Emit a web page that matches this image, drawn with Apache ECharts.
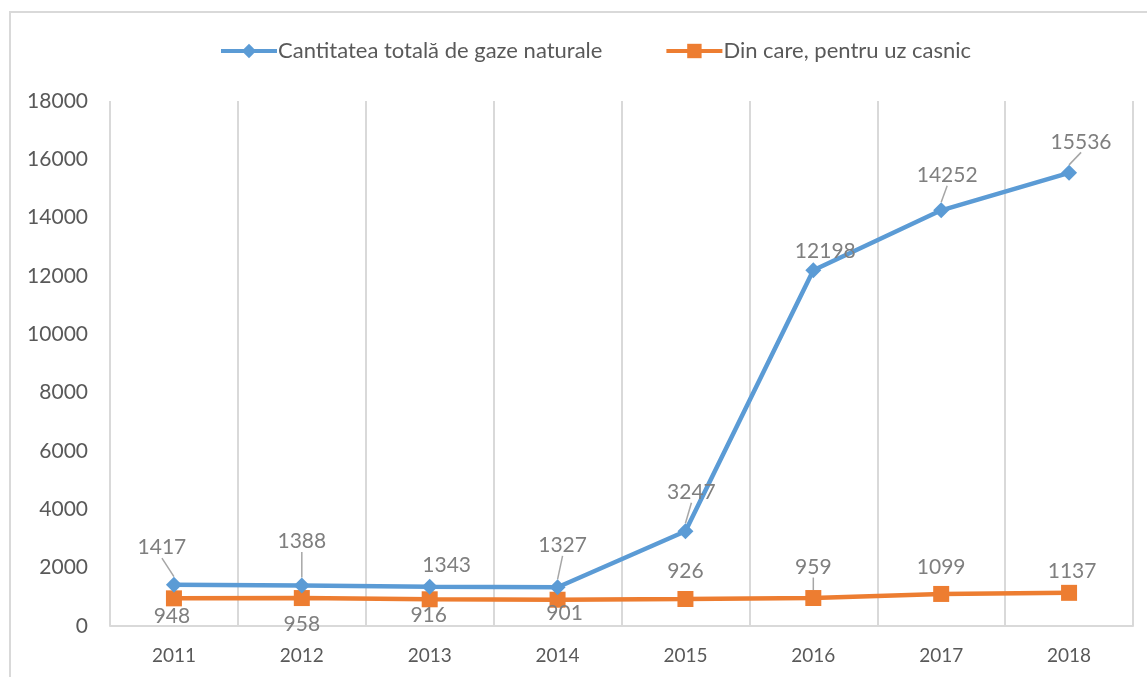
<!DOCTYPE html>
<html>
<head>
<meta charset="utf-8">
<script src="https://cdn.jsdelivr.net/npm/echarts@6/dist/echarts.min.js"></script>
<style>
	html, body { margin: 0; padding: 0; background: #fff; }
	#frame { position: absolute; left: 9px; top: 11px; width: 1200px; height: 700px; border: 2px solid #d9d9d9; box-sizing: border-box; }
	#chart { position: absolute; left: 0; top: 0; width: 1147px; height: 677px; }
</style>
</head>
<body>
<div id="frame"></div>
<div id="chart"></div>
<script>
// ani
var years = ['2011', '2012', '2013', '2014', '2015', '2016', '2017', '2018'];
var totalGaz = [1417, 1388, 1343, 1327, 3247, 12198, 14252, 15536];
var casnic = [948, 958, 916, 901, 926, 959, 1099, 1137];
var yTicks = { min: 0, max: 18000, interval: 2000 };

// pozitia etichetelor fata de punct (dx, dy) si daca au linie de legatura
var totalOffsets = [[-12, -37], [0, -44], [17, -22], [5, -42], [6, -39], [12, -19], [6, -35], [12, -31]];
var totalLeader = [true, true, false, true, true, false, true, true];
var casnicOffsets = [[-2, 18], [0, 26], [-1, 16], [7, 14], [0, -28], [0, -31], [0, -27], [3, -22]];
var casnicLeader = [false, false, false, false, false, true, false, false];

var font = 'Lato, "Open Sans", sans-serif';

function buildData(values, leader) {
	var out = [];
	for (var i = 0; i < values.length; i++) {
		out.push({ value: values[i], labelLine: { show: leader[i] } });
	}
	return out;
}

var myChart = echarts.init(document.getElementById('chart'));
var option = {
	animation: false,
	textStyle: { fontFamily: font },
	legend: {
		top: 35,
		left: 214,
		itemWidth: 56,
		itemHeight: 18,
		itemGap: 62,
		lineStyle: { width: 4 },
		textStyle: { fontSize: 22, color: '#595959', fontFamily: font, padding: [0, 0, 0, -4] },
		data: ['Cantitatea totală de gaze naturale', 'Din care, pentru uz casnic']
	},
	grid: { left: 110, right: 14, top: 101, bottom: 51, containLabel: false },
	xAxis: {
		type: 'category',
		data: years,
		boundaryGap: true,
		axisLine: { lineStyle: { color: '#d9d9d9', width: 2 } },
		axisTick: { show: false },
		splitLine: { show: true, lineStyle: { color: '#d9d9d9', width: 2 } },
		axisLabel: { fontSize: 19, color: '#595959', margin: 20, fontFamily: font }
	},
	yAxis: {
		type: 'value',
		min: yTicks.min,
		max: yTicks.max,
		interval: yTicks.interval,
		axisLine: { show: false },
		axisTick: { show: false },
		splitLine: { show: false },
		axisLabel: {
			fontSize: 21, color: '#595959', margin: 22, fontFamily: font,
			formatter: function(v) { return String(v); }
		}
	},
	series: [{
		name: 'Cantitatea totală de gaze naturale',
		type: 'line',
		data: buildData(totalGaz, totalLeader),
		symbol: 'diamond',
		symbolSize: 16,
		lineStyle: { color: '#5b9bd5', width: 4.5 },
		itemStyle: { color: '#5b9bd5' },
		label: { show: true, position: 'inside', fontSize: 21, color: '#7f7f7f', fontFamily: font },
		labelLine: { show: true, lineStyle: { color: '#a6a6a6', width: 1.5 } },
		labelLayout: function(p) {
			var o = totalOffsets[p.dataIndex];
			return { dx: o[0], dy: o[1] };
		},
		z: 3
	}, {
		name: 'Din care, pentru uz casnic',
		type: 'line',
		data: buildData(casnic, casnicLeader),
		symbol: 'rect',
		symbolSize: 16,
		lineStyle: { color: '#ed7d31', width: 4.5 },
		itemStyle: { color: '#ed7d31' },
		label: { show: true, position: 'inside', fontSize: 21, color: '#7f7f7f', fontFamily: font },
		labelLine: { show: true, lineStyle: { color: '#a6a6a6', width: 1.5 } },
		labelLayout: function(p) {
			var o = casnicOffsets[p.dataIndex];
			return { dx: o[0], dy: o[1] };
		},
		z: 2
	}]
};
myChart.setOption(option);
</script>
</body>
</html>
